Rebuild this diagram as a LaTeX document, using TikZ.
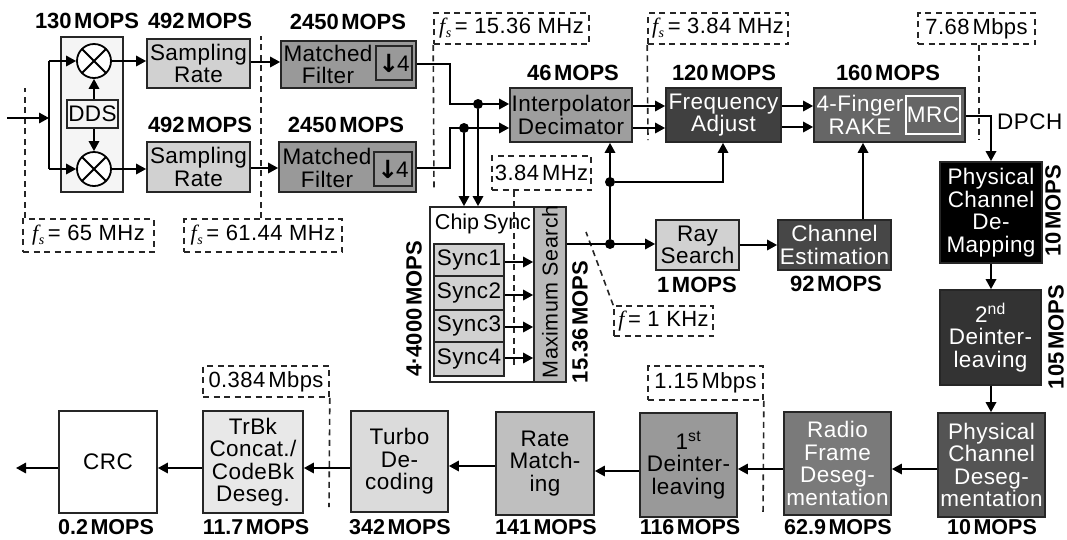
\documentclass[tikz,border=0pt]{standalone}
\usepackage{fontspec}
\setmainfont{Liberation Sans}[LetterSpace=2]
\newfontfamily\lbs{Liberation Sans}
\newfontfamily\tms{Liberation Serif}
\newfontfamily\djv{DejaVu Sans}
\usetikzlibrary{arrows.meta,calc}
\newcommand{\fsym}{{\tms\itshape f}}
\newcommand{\fs}{{\tms\itshape f\kern0.5pt\raisebox{-3.5pt}{\fontsize{14}{14}\selectfont s}}}
\newcommand{\mops}[1]{#1\hspace{2.5pt}MOPS}
\newcommand{\dnfour}{{\djv\bfseries\fontsize{25}{25}\selectfont\raisebox{-1pt}{↓}}\kern-2pt 4}
\newcommand{\blk}[7]{\node[blk,#6,minimum width={(#4-#2)*1pt},minimum height={(#5-#3)*1pt}] (#1) at ({(#2+#4)/2},{(#3+#5)/2}) {#7};}
\newcommand{\dbx}[6]{\node[dbox,minimum width={(#4-#2)*1pt},minimum height={(#5-#3)*1pt}] (#1) at ({(#2+#4)/2},{(#3+#5)/2}) {#6};}
\definecolor{g1}{gray}{0.96}
\definecolor{g2}{gray}{0.82}
\definecolor{g3}{gray}{0.60}
\definecolor{g4}{gray}{0.62}
\definecolor{g5}{gray}{0.25}
\definecolor{g6}{gray}{0.40}
\definecolor{g7}{gray}{0.28}
\definecolor{g8}{gray}{0.20}
\definecolor{g9}{gray}{0.33}
\definecolor{g10}{gray}{0.48}
\definecolor{g11}{gray}{0.60}
\definecolor{g12}{gray}{0.75}
\definecolor{g13}{gray}{0.86}
\definecolor{g14}{gray}{0.91}
\tikzset{
  x=1pt,y=-1pt,
  blk/.style={draw=black!85,line width=1.8pt,inner sep=0pt,align=center,font=\fontsize{22.5}{22.5}\selectfont},
  wtxt/.style={text=white},
  dbox/.style={draw=black!85,line width=1.6pt,dash pattern=on 6pt off 4.5pt,inner sep=0pt,text=black,font=\fontsize{22}{22.5}\selectfont},
  dline/.style={draw=black!85,line width=1.6pt,dash pattern=on 6pt off 4.5pt},
  lab/.style={font=\lbs\bfseries\fontsize{22}{22}\selectfont,inner sep=0pt},
  botlab/.style={lab,font=\lbs\bfseries\fontsize{21.5}{22}\selectfont},
  arr/.style={draw=black,line width=1.7pt,-{Triangle[length=10pt,width=10.5pt]}},
  ln/.style={draw=black,line width=1.7pt},
  dotn/.style={circle,fill=black,inner sep=0pt,minimum size=10pt},
  plain/.style={font=\fontsize{22.5}{22.5}\selectfont,align=center,inner sep=0pt},
  tight/.style={font=\lbs\fontsize{21.5}{22.5}\selectfont,inner sep=0pt},
  mixer/.style={circle,draw=black,line width=1.8pt,minimum size=34pt,inner sep=0pt,fill=white,
    path picture={\draw[line width=1.8pt] (path picture bounding box.north west)--(path picture bounding box.south east)
      (path picture bounding box.north east)--(path picture bounding box.south west);}},
}
\begin{document}
\begin{tikzpicture}
\useasboundingbox (0,0) rectangle (1067,539);
% dashed leaders first
\coordinate (d65t) at (25,88);
\coordinate (d61t) at (261,36);
\coordinate (d15b) at (434,190);
\coordinate (d384b) at (648,140);
\coordinate (d768b) at (979,140);
\coordinate (dchip) at (514,368);
\coordinate (d1k) at (586,232);
\coordinate (d0384) at (329,507);
\coordinate (d115) at (763,516);
\dbx{b65}{23}{219}{154}{252}{\fs\,= 65 MHz}
\dbx{b61}{184}{219}{342}{252}{\fs\,= 61.44 MHz}
\dbx{b15}{434}{13}{589}{44}{\fs\,= 15.36 MHz}
\dbx{b384}{648}{13}{788}{44}{\fs\,= 3.84 MHz}
\dbx{b768}{918}{13}{1035}{44}{7.68\hspace{3pt}Mbps}
\dbx{bchip}{492}{156}{591}{190}{3.84\hspace{3pt}MHz}
\dbx{b1k}{614}{306}{713}{336}{\fsym\,= 1 KHz}
\dbx{b0384}{203}{366}{329}{397}{0.384\hspace{3pt}Mbps}
\dbx{b115}{648}{366}{763}{400}{1.15\hspace{3pt}Mbps}
\draw[dline] (b65.north west -| d65t) -- (d65t);
\draw[dline] (b61.north -| d61t) -- (d61t);
\draw[dline] (b15.south west) -- (d15b);
\draw[dline] (b384.south west) -- (d384b);
\draw[dline] (b768.south -| d768b) -- (d768b);
\draw[dline] (b1k.north west) -- (d1k);
\draw[dline] (b0384.south east) -- (d0384);
\draw[dline] (b115.south east) -- (d115);
% front end
\blk{mixbox}{61}{37}{123}{192}{fill=g1}{}
\node[mixer] (m1) at (94,61) {};
\node[mixer] (m2) at (94,169) {};
\blk{dds}{67}{100}{118}{128}{fill=g1}{DDS}
\blk{s1}{147}{39}{250}{88}{fill=g2}{Sampling\\Rate}
\blk{s2}{147}{142}{250}{192}{fill=g2}{Sampling\\Rate}
\blk{f1}{281}{41}{416}{88}{fill=g3}{}
\node[plain] (t1) at (328,64.5) {Matched\\Filter};
\blk{dn1}{376}{46}{412}{80}{fill=g3}{\dnfour}
\blk{f2}{279}{142}{416}{192}{fill=g3}{}
\node[plain] (t2) at (327,168) {Matched\\Filter};
\blk{dn2}{374}{152}{412}{186}{fill=g3}{\dnfour}
\blk{ip}{510}{88}{632}{142}{fill=g4}{Interpolator\\Decimator}
\blk{fa}{666}{88}{781}{142}{fill=g5,wtxt}{Frequency\\Adjust}
\blk{rk}{814}{88}{965}{142}{fill=g6}{}
\node[plain,text=white] (t3) at (860,115) {4-Finger\\RAKE};
\node[draw=white,line width=1.5pt,minimum width=54pt,minimum height=38pt,inner sep=0pt,text=white,font=\fontsize{22.5}{22.5}\selectfont] (mrc) at (933,115) {MRC};
% chip sync
\blk{cs}{430}{207}{566}{382}{fill=white}{}
\node[tight] (cst) at (483,224) {Chip\hspace{4pt}Sync};
\draw[dline] (bchip.south -| dchip) -- (dchip);
\blk{ms}{534}{207}{566}{382}{fill=black!27}{}
\node[font=\fontsize{21.5}{22.5}\selectfont,inner sep=0pt,rotate=90] (mst) at (550,292) {Maximum Search};
\blk{y1}{434}{244}{504}{276}{fill=g2}{Sync1}
\blk{y2}{434}{276}{504}{310}{fill=g2}{Sync2}
\blk{y3}{434}{310}{504}{342}{fill=g2}{Sync3}
\blk{y4}{434}{342}{504}{376}{fill=g2}{Sync4}
\blk{ray}{656}{220}{739}{270}{fill=g2}{Ray\\Search}
\blk{ce}{778}{220}{891}{270}{fill=g7,wtxt}{Channel\\Estimation}
% right column and bottom row
\blk{pm}{940}{162}{1042}{263}{fill=black,wtxt}{Physical\\Channel\\De-\\Mapping}
\blk{di2}{940}{290}{1041}{385}{fill=g8,wtxt}{2\textsuperscript{nd}\\Deinter-\\leaving}
\blk{pd}{938}{413}{1045}{517}{fill=g9,wtxt}{Physical\\Channel\\Deseg-\\mentation}
\blk{rf}{784}{412}{891}{515}{fill=g10,wtxt}{Radio\\Frame\\Deseg-\\mentation}
\blk{di1}{640}{413}{737}{517}{fill=g11}{1\textsuperscript{st}\\Deinter-\\leaving}
\blk{rm}{496}{412}{594}{515}{fill=g12}{Rate\\Match-\\ing}
\blk{tu}{351}{411}{448}{512}{fill=g13}{Turbo\\De-\\coding}
\blk{tb}{203}{411}{303}{513}{fill=g14}{TrBk\\Concat./\\CodeBk\\Deseg.}
\blk{crc}{59}{411}{157}{513}{fill=white}{CRC}
% labels
\node[lab] (l1) at (87,21) {\mops{130}};
\node[lab] (l2) at (200,21) {\mops{492}};
\node[lab] (l3) at (348,22) {\mops{2450}};
\node[lab] (l4) at (200,125) {\mops{492}};
\node[lab] (l5) at (346,125) {\mops{2450}};
\node[lab] (l6) at (573,73) {\mops{46}};
\node[lab] (l7) at (724,73) {\mops{120}};
\node[lab] (l8) at (888,73) {\mops{160}};
\node[lab] (l9) at (697,285) {\mops{1}};
\node[lab] (l10) at (836,284) {\mops{92}};
\node[lab,rotate=90] (l11) at (414,309) {4·\mops{4000}};
\node[lab,rotate=90] (l12) at (580,322) {\mops{15.36}};
\node[lab,rotate=90] (l13) at (1053,211) {\mops{10}};
\node[lab,rotate=90] (l14) at (1056,337) {\mops{105}};
\node[botlab] (l15) at (106,527) {\mops{0.2}};
\node[botlab] (l16) at (256,527) {\mops{11.7}};
\node[botlab] (l17) at (400,527) {\mops{342}};
\node[botlab] (l18) at (546,527) {\mops{141}};
\node[botlab] (l19) at (690,527) {\mops{116}};
\node[botlab] (l20) at (838,527) {\mops{62.9}};
\node[botlab] (l21) at (992,527) {\mops{10}};
\node[plain,anchor=west] (dpch) at (997,122) {DPCH};
% input
\coordinate (in) at (7,118);
\coordinate (sp) at (49,118);
\draw[arr] (in) -- (sp);
\draw[ln] (sp |- m1.west) -- (sp |- m2.west);
\draw[arr] (sp |- m1.west) -- (m1.west);
\draw[arr] (sp |- m2.west) -- (m2.west);
\draw[arr] (dds.north -| m1) -- (m1.south);
\draw[arr] (dds.south -| m2) -- (m2.north);
\draw[arr] (m1.east) -- (s1.west |- m1.east);
\draw[arr] (m2.east) -- (s2.west |- m2.east);
\draw[arr] (s1.east |- 0,62) -- (f1.west |- 0,62);
\draw[arr] (s2.east |- 0,168) -- (f2.west |- 0,168);
% matched filter outputs
\coordinate (bend1) at (450,64);
\coordinate (bend2) at (450,168);
\node[dotn] (j1) at (478,104) {};
\node[dotn] (j2) at (464,128) {};
\draw[arr] (f1.east |- bend1) -- (bend1) -- (bend1 |- j1) -- (ip.west |- j1);
\draw[arr] (f2.east |- bend2) -- (bend2) -- (bend2 |- j2) -- (ip.west |- j2);
\draw[arr] (j1) -- (j1 |- cs.north);
\draw[arr] (j2) -- (j2 |- cs.north);
\draw[arr] (ip.east |- 0,106) -- (fa.west |- 0,106);
\draw[arr] (ip.east |- 0,128) -- (fa.west |- 0,128);
\draw[arr] (fa.east |- 0,106) -- (rk.west |- 0,106);
\draw[arr] (fa.east |- 0,127) -- (rk.west |- 0,127);
% DPCH
\coordinate (dp) at (991,116);
\draw[arr] (rk.east |- dp) -- (dp) -- (dp |- pm.north);
\draw[arr] (pm.south -| dp) -- (dp |- di2.north);
\draw[arr] (di2.south -| dp) -- (dp |- pd.north);
% chip sync out
\draw[arr] (y1.east |- 0,262) -- (ms.west |- 0,262);
\draw[arr] (y2.east |- 0,295) -- (ms.west |- 0,295);
\draw[arr] (y3.east |- 0,327) -- (ms.west |- 0,327);
\draw[arr] (y4.east |- 0,358) -- (ms.west |- 0,358);
\node[dotn] (j3) at (610,244) {};
\node[dotn] (j4) at (610,182) {};
\draw[arr] (ms.east |- j3) -- (ray.west |- j3);
\draw[arr] (j3) -- (j3 |- ip.south);
\draw[arr] (j4) -| (fa.south -| 723,0);
\draw[arr] (ray.east) -- (ce.west);
\draw[arr] (ce.north -| 863,0) -- (rk.south -| 863,0);
% bottom chain
\draw[arr] (pd.west |- 0,469) -- (rf.east |- 0,469);
\draw[arr] (rf.west |- 0,469) -- (di1.east |- 0,469);
\draw[arr] (di1.west |- 0,471) -- (rm.east |- 0,471);
\draw[arr] (rm.west |- 0,466) -- (tu.east |- 0,466);
\draw[arr] (tu.west |- 0,468) -- (tb.east |- 0,468);
\draw[arr] (tb.west |- 0,468) -- (crc.east |- 0,468);
\coordinate (out) at (16,468);
\draw[arr] (crc.west |- out) -- (out);
\end{tikzpicture}
\end{document}
